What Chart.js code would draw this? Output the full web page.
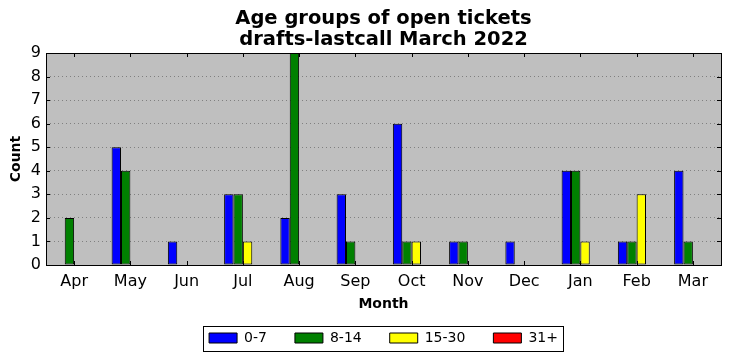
<!DOCTYPE html>
<html lang="en">
<head>
<meta charset="UTF-8">
<title>Age groups of open tickets</title>
<style>
  body { margin: 0; background: #fff; }
  #wrap { width: 731px; height: 361px; }
</style>
</head>
<body>
<div id="wrap"><canvas id="myChart"></canvas></div>
<script src="https://cdn.jsdelivr.net/npm/chart.js"></script>
<script>
// data
const months = ["Apr", "May", "Jun", "Jul", "Aug", "Sep", "Oct", "Nov", "Dec", "Jan", "Feb", "Mar"];
const age0to7   = [0, 5, 1, 3, 2, 3, 6, 1, 1, 4, 1, 4];
const age8to14  = [2, 4, 0, 3, 9, 1, 1, 1, 0, 4, 1, 1];
const age15to30 = [0, 0, 0, 1, 0, 0, 1, 0, 0, 1, 3, 0];
const age31plus = [0, 0, 0, 0, 0, 0, 0, 0, 0, 0, 0, 0];
const yTicks = [0, 1, 2, 3, 4, 5, 6, 7, 8, 9];

const FONT = "DejaVu Sans";

// grey plot face, frame, inward ticks on all sides, box round the legend
const mplLook = {
  id: "mplLook",
  beforeDraw(chart) {
    const { ctx, chartArea: a } = chart;
    ctx.save();
    ctx.fillStyle = "#bfbfbf";
    ctx.fillRect(a.left, a.top, a.right - a.left, a.bottom - a.top);

    // legend frame
    const boxes = chart.legend && chart.legend.legendHitBoxes;
    if (boxes && boxes.length) {
      const first = boxes[0], last = boxes[boxes.length - 1];
      const cy = first.top + first.height / 2;
      const l = first.left - 6, r = last.left + last.width + 5;
      const t = cy - 12.5, b = cy + 12.5;
      ctx.fillStyle = "#fff";
      ctx.fillRect(l, t, r - l, b - t);
      ctx.strokeStyle = "#000";
      ctx.lineWidth = 1;
      ctx.strokeRect(Math.round(l) + 0.5, Math.round(t) + 0.5, Math.round(r - l), Math.round(b - t));
    }
    ctx.restore();
  },
  afterDatasetsDraw(chart) {
    const { ctx, chartArea: a, scales } = chart;
    ctx.save();
    ctx.strokeStyle = "#000";
    ctx.lineWidth = 1;
    ctx.beginPath();
    const x = scales.x, y = scales.y;
    x.ticks.forEach((t, i) => {
      const px = Math.round(x.getPixelForTick(i)) + 0.5;
      ctx.moveTo(px, a.bottom); ctx.lineTo(px, a.bottom - 4);
      ctx.moveTo(px, a.top); ctx.lineTo(px, a.top + 4);
    });
    y.ticks.forEach((t, i) => {
      const py = Math.round(y.getPixelForTick(i)) + 0.5;
      ctx.moveTo(a.left, py); ctx.lineTo(a.left + 4, py);
      ctx.moveTo(a.right, py); ctx.lineTo(a.right - 4, py);
    });
    ctx.stroke();
    ctx.strokeRect(Math.round(a.left) + 0.5, Math.round(a.top) + 0.5,
      Math.round(a.right - a.left), Math.round(a.bottom - a.top));
    ctx.restore();
  }
};

function ds(label, data, color) {
  return {
    label: label,
    data: data,
    backgroundColor: color,
    borderColor: "#000",
    borderWidth: 1,
    borderSkipped: false,
    categoryPercentage: 0.667,
    barPercentage: 1.0
  };
}

new Chart(document.getElementById("myChart"), {
  type: "bar",
  data: {
    labels: months,
    datasets: [
      ds("0-7", age0to7, "#0000ff"),
      ds("8-14", age8to14, "#008000"),
      ds("15-30", age15to30, "#ffff00"),
      ds("31+", age31plus, "#ff0000")
    ]
  },
  options: {
    responsive: true,
    maintainAspectRatio: false,
    animation: false,
    layout: { padding: { left: 0, right: 10, top: 0, bottom: 6 } },
    plugins: {
      title: {
        display: true,
        fullSize: false,
        text: ["Age groups of open tickets", "drafts-lastcall March 2022"],
        color: "#000",
        font: { family: FONT, size: 19.5, weight: "bold", lineHeight: 1.077 },
        padding: { top: 8, bottom: 3 }
      },
      legend: {
        position: "bottom",
        fullSize: false,
        labels: {
          color: "#000",
          boxWidth: 28,
          boxHeight: 10,
          padding: 28,
          font: { family: FONT, size: 14, lineHeight: 1 }
        }
      },
      tooltip: { enabled: false }
    },
    scales: {
      x: {
        grid: { display: false },
        border: { display: false },
        ticks: { color: "#000", padding: -1, font: { family: FONT, size: 16 } },
        title: {
          display: true, text: "Month", color: "#000",
          font: { family: FONT, size: 14, weight: "bold" },
          padding: { top: 0, bottom: -10 }
        },
        afterFit(scale) { scale.height = 38; }
      },
      y: {
        min: 0,
        max: 9,
        afterBuildTicks(scale) { scale.ticks = yTicks.map(v => ({ value: v })); },
        grid: {
          color: "#808080",
          lineWidth: 1,
          drawTicks: false
        },
        border: { display: false, dash: [1, 3] },
        ticks: { color: "#000", padding: 5, font: { family: FONT, size: 16 } },
        title: {
          display: true, text: "Count", color: "#000",
          font: { family: FONT, size: 14, weight: "bold" },
          padding: { top: 8, bottom: 0 }
        },
        afterFit(scale) { scale.width = 46; }
      }
    }
  },
  plugins: [mplLook]
});
</script>
</body>
</html>
